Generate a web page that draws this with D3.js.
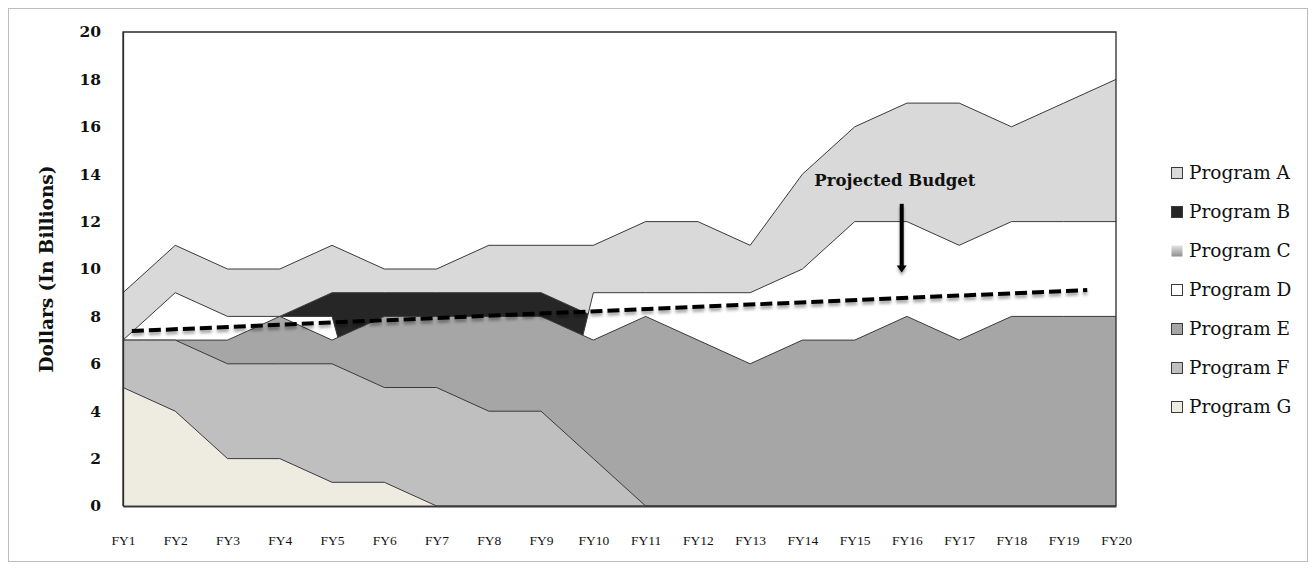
<!DOCTYPE html>
<html>
<head>
<meta charset="utf-8">
<script src="https://cdn.jsdelivr.net/npm/d3@7"></script>
<style>
  body { margin: 0; background: #ffffff; }
  svg { display: block; }
</style>
</head>
<body>
<svg id="chart" width="1316" height="569"></svg>
<script>
// Fiscal years along the category axis
const years = ["FY1","FY2","FY3","FY4","FY5","FY6","FY7","FY8","FY9","FY10",
               "FY11","FY12","FY13","FY14","FY15","FY16","FY17","FY18","FY19","FY20"];

// Funding per program, dollars in billions (overlapping areas, A drawn at the back)
const programA = [9, 11, 10, 10, 11, 10, 10, 11, 11, 11, 12, 12, 11, 14, 16, 17, 17, 16, 17, 18];
const programB = [0, 0, 0, 8, 9, 9, 9, 9, 9, 8, 0, 0, 0, 0, 0, 0, 0, 0, 0, 0];
const programC = [0, 0, 0, 0, 0, 0, 0, 0, 0, 0, 0, 0, 0, 0, 0, 0, 0, 0, 0, 0];
const programD = [7, 9, 8, 8, 8, 0, 0, 0, 0, 9, 9, 9, 9, 10, 12, 12, 11, 12, 12, 12];
const programE = [7, 7, 7, 8, 7, 8, 8, 8, 8, 7, 8, 7, 6, 7, 7, 8, 7, 8, 8, 8];
const programF = [7, 7, 6, 6, 6, 5, 5, 4, 4, 2, 0, 0, 0, 0, 0, 0, 0, 0, 0, 0];
const programG = [5, 4, 2, 2, 1, 1, 0, 0, 0, 0, 0, 0, 0, 0, 0, 0, 0, 0, 0, 0];

const seriesNames = ["Program A","Program B","Program C","Program D","Program E","Program F","Program G"];
const seriesValues = [programA, programB, programC, programD, programE, programF, programG];
const seriesFills = ["#d9d9d9", "#262626", "url(#gradC)", "#ffffff", "#a6a6a6", "#bfbfbf", "#eeece1"];

const yTicks = [0, 2, 4, 6, 8, 10, 12, 14, 16, 18, 20];

// Projected budget trend (category position, billions)
const budgetPos = [0.17, 18.45];
const budgetVal = [7.38, 9.11];

// Annotation arrow (category position, top and bottom value)
const arrowPos = 14.9;
const arrowVal = [12.75, 9.85];
const budgetLabel = "Projected Budget";
const budgetLabelPos = 14.77;
const budgetLabelVal = 13.5;

const svg = d3.select("#chart");
const plot = { left: 123, right: 1116, top: 32, bottom: 506 };

const x = d3.scaleLinear().domain([0, years.length - 1]).range([plot.left, plot.right]);
const y = d3.scaleLinear().domain([0, 20]).range([plot.bottom, plot.top]);

const defs = svg.append("defs");
const grad = defs.append("linearGradient").attr("id", "gradC")
  .attr("x1", 0).attr("y1", 0).attr("x2", 0).attr("y2", 1);
grad.append("stop").attr("offset", "0%").attr("stop-color", "#e4e4e4");
grad.append("stop").attr("offset", "100%").attr("stop-color", "#8e8e8e");

const shadow = defs.append("filter").attr("id", "shadow")
  .attr("x", "-10%").attr("y", "-50%").attr("width", "120%").attr("height", "300%");
shadow.append("feDropShadow").attr("dx", 0).attr("dy", 3).attr("stdDeviation", 1.6)
  .attr("flood-color", "#000").attr("flood-opacity", 0.35);

// Outer chart frame
svg.append("rect").attr("x", 8.5).attr("y", 8.5).attr("width", 1299).attr("height", 553)
  .attr("fill", "#ffffff").attr("stroke", "#bdbdbd").attr("stroke-width", 1);

// Areas, each from zero, drawn back to front
const area = d3.area().x((d, i) => x(i)).y0(y(0)).y1(d => y(d));
const line = d3.line().x((d, i) => x(i)).y(d => y(d));

const layers = svg.append("g");
seriesValues.forEach((vals, k) => {
  layers.append("path").attr("d", area(vals)).attr("fill", seriesFills[k]);
  layers.append("path").attr("d", line(vals)).attr("fill", "none")
    .attr("stroke", "#3a3a3a").attr("stroke-width", 1);
});

// Plot area border
svg.append("path")
  .attr("d", `M${plot.left},${plot.bottom}V${plot.top}H${plot.right}V${plot.bottom}`)
  .attr("fill", "none").attr("stroke", "#2b2b2b").attr("stroke-width", 1.3);

// Axes
const xAxis = d3.axisBottom(x).tickValues(d3.range(years.length))
  .tickFormat(i => years[i]).tickSize(0).tickPadding(29);
const gx = svg.append("g").attr("transform", `translate(0,${plot.bottom})`).call(xAxis);
gx.select(".domain").attr("stroke", "#3a3a3a").attr("stroke-width", 2.2);
gx.selectAll("text").attr("font-family", "Liberation Serif").attr("font-size", 13.5)
  .attr("fill", "#111");

const yAxis = d3.axisLeft(y).tickValues(yTicks).tickSize(0).tickPadding(22);
const gy = svg.append("g").attr("transform", `translate(${plot.left},0)`).call(yAxis);
gy.select(".domain").attr("stroke", "#2b2b2b").attr("stroke-width", 1.3);
gy.selectAll("text").attr("font-family", "DejaVu Serif").attr("font-size", 15.5)
  .attr("font-weight", "bold").attr("fill", "#111");

// Axis title
svg.append("text")
  .attr("transform", `translate(47,${(plot.top + plot.bottom) / 2}) rotate(-90)`)
  .attr("text-anchor", "middle").attr("dy", "0.35em")
  .attr("font-family", "DejaVu Serif").attr("font-weight", "bold").attr("font-size", 18.5)
  .attr("fill", "#111").text("Dollars (In Billions)");

// Projected budget dashed trend
svg.append("path")
  .attr("d", d3.line().x(d => x(d[0])).y(d => y(d[1]))(d3.zip(budgetPos, budgetVal)))
  .attr("fill", "none").attr("stroke", "#000").attr("stroke-width", 4)
  .attr("stroke-dasharray", "12,5").attr("filter", "url(#shadow)");

// Annotation arrow and label
const ax = x(arrowPos);
const ay0 = y(arrowVal[0]), ay1 = y(arrowVal[1]);
const arrow = svg.append("g").attr("filter", "url(#shadow)");
arrow.append("line").attr("x1", ax).attr("x2", ax).attr("y1", ay0).attr("y2", ay1 - 5)
  .attr("stroke", "#000").attr("stroke-width", 4);
arrow.append("path")
  .attr("d", `M${ax - 5},${ay1 - 7}L${ax + 5},${ay1 - 7}L${ax},${ay1}Z`)
  .attr("fill", "#000");

svg.append("text").attr("x", x(budgetLabelPos)).attr("y", y(budgetLabelVal))
  .attr("text-anchor", "middle")
  .attr("font-family", "DejaVu Serif").attr("font-weight", "bold").attr("font-size", 16.5)
  .attr("fill", "#111").text(budgetLabel);

// Legend
const legend = svg.append("g").attr("transform", "translate(1171,173)");
seriesNames.forEach((name, k) => {
  const g = legend.append("g").attr("transform", `translate(0,${k * 39})`);
  g.append("rect").attr("x", 0.5).attr("y", -5.5).attr("width", 11).attr("height", 11)
    .attr("fill", seriesFills[k]).attr("stroke", k === 2 ? "none" : "#3a3a3a").attr("stroke-width", 1);
  g.append("text").attr("x", 18).attr("dy", "0.35em")
    .attr("font-family", "DejaVu Serif").attr("font-size", 18.5).attr("fill", "#111")
    .text(name);
});
</script>
</body>
</html>
